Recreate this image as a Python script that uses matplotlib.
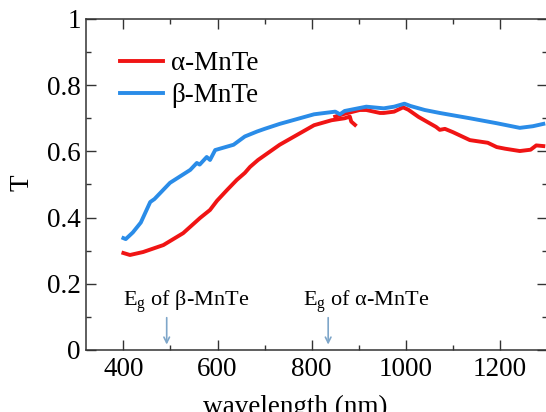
import matplotlib
matplotlib.use("Agg")
import matplotlib.pyplot as plt
from matplotlib.ticker import MultipleLocator, FixedLocator

# fonts: Times-like everywhere
plt.rcParams['font.family'] = ['Liberation Serif', 'DejaVu Serif']
plt.rcParams['mathtext.fontset'] = 'custom'
plt.rcParams['mathtext.rm'] = 'Liberation Serif'

# beta-MnTe (blue)
wl_beta = [400, 405, 420, 437, 457, 466, 499, 542, 556, 562, 577, 584, 595, 634, 658,
           684, 700, 732, 805, 850, 860, 870, 916, 953, 975, 997, 1010, 1040, 1072, 1100,
           1136, 1193, 1242, 1270, 1292]
T_beta = [0.338, 0.335, 0.355, 0.385, 0.447, 0.456, 0.505, 0.544, 0.565, 0.560, 0.583, 0.574, 0.604, 0.62, 0.645,
          0.660, 0.668, 0.683, 0.712, 0.72, 0.712, 0.722, 0.735, 0.73, 0.735, 0.744, 0.737, 0.725, 0.716, 0.709,
          0.700, 0.685, 0.671, 0.676, 0.683]

# alpha-MnTe (red), first detector range
wl_alpha1 = [400, 414, 442, 485, 527, 563, 584, 599, 620, 641, 658, 669, 686, 732, 805, 842, 870, 881, 884, 892]
T_alpha1 = [0.293, 0.287, 0.296, 0.317, 0.353, 0.399, 0.423, 0.451, 0.483, 0.514, 0.535, 0.553, 0.574, 0.620, 0.679,
            0.694, 0.700, 0.705, 0.690, 0.680]

# alpha-MnTe (red), second detector range
wl_alpha2 = [850, 866, 902, 916, 945, 953, 975, 994, 1005, 1027, 1064, 1072, 1083, 1100, 1136, 1174, 1193,
             1211, 1242, 1265, 1277, 1292]
T_alpha2 = [0.705, 0.712, 0.725, 0.725, 0.716, 0.716, 0.72, 0.733, 0.726, 0.704, 0.674, 0.665, 0.668, 0.658, 0.634,
            0.626, 0.613, 0.608, 0.601, 0.605, 0.618, 0.616]

y_ticks = [0, 0.2, 0.4, 0.6, 0.8, 1.0]
y_labels = ['0', '0.2', '0.4', '0.6', '0.8', '1']

red = '#f01414'
blue = '#2a8ce8'
arrow_c = '#7ea6c9'

fig = plt.figure(figsize=(5.46, 4.12), dpi=100)
ax = fig.add_axes([0.157, 0.1505, 0.845, 0.8035])

ax.plot(wl_alpha1, T_alpha1, color=red, lw=2.8, label='α-MnTe')
ax.plot(wl_alpha2, T_alpha2, color=red, lw=2.8)
ax.plot(wl_beta, T_beta, color=blue, lw=2.8, label='β-MnTe')

ax.set_xlim(320, 1300)
ax.set_ylim(0, 1)
ax.xaxis.set_major_locator(FixedLocator([400, 600, 800, 1000, 1200]))
ax.xaxis.set_minor_locator(MultipleLocator(100))
ax.set_yticks(y_ticks)
ax.set_yticklabels(y_labels)
ax.yaxis.set_minor_locator(MultipleLocator(0.1))
ax.tick_params(which='both', direction='in', top=True, right=True, width=1.0,
               color='#333333', labelsize=19.5)
ax.tick_params(which='major', length=7)
ax.tick_params(which='minor', length=3.5)
ax.tick_params(axis='x', pad=5)
for s in ax.spines.values():
    s.set_linewidth(1.1)
    s.set_color('#333333')

ax.set_xlabel('wavelength (nm)', fontsize=19.5, va='top')
ax.xaxis.set_label_coords(0.455, -0.136)
ax.set_ylabel('T', fontsize=19.5)
ax.yaxis.set_label_coords(-0.11, 0.505)

leg = ax.legend(loc='upper left', bbox_to_anchor=(0.05, 0.935), frameon=False, fontsize=19.5,
                handlelength=1.6, handletextpad=0.3, labelspacing=0.25, borderaxespad=0)

# band-gap markers
ax.text(400, 0.131, 'E$_{\\mathregular{g}}$ of β-MnTe', fontsize=16, va='baseline')
ax.text(781, 0.131, 'E$_{\\mathregular{g}}$ of α-MnTe', fontsize=16, va='baseline')
ax.annotate('', xy=(492, 0.008), xytext=(492, 0.106),
            arrowprops=dict(arrowstyle='->', color=arrow_c, lw=1.2))
ax.annotate('', xy=(835, 0.008), xytext=(835, 0.106),
            arrowprops=dict(arrowstyle='->', color=arrow_c, lw=1.2))

fig.savefig('out.png', dpi=100)
